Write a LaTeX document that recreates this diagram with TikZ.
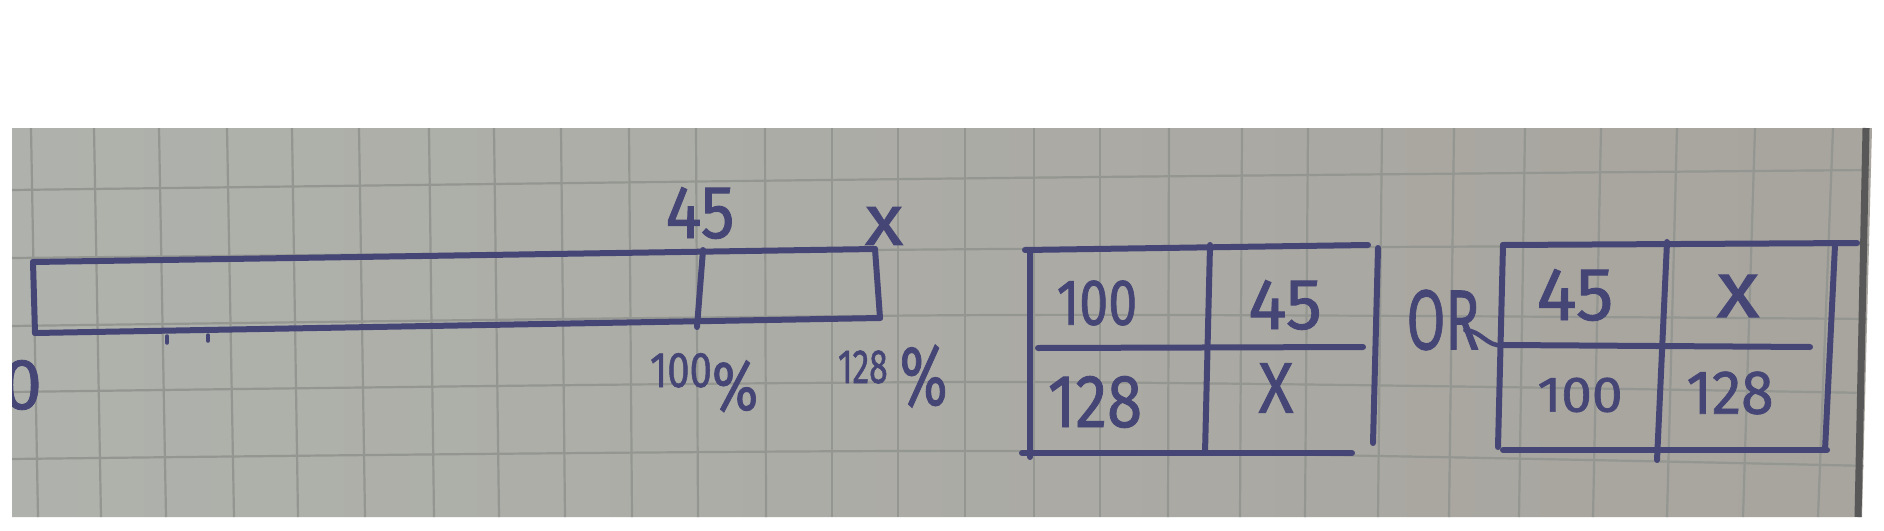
\documentclass[tikz,border=0pt]{standalone}
\usepackage{fontspec}
\setmainfont[FakeBold=1.2]{Fira Sans}
\usepackage{graphicx}
\definecolor{ink}{RGB}{70,70,118}
\definecolor{paperL}{RGB}{175,178,172}
\definecolor{paperM}{RGB}{176,176,170}
\definecolor{paperR}{RGB}{168,164,158}
\definecolor{gridc}{RGB}{148,150,145}
\definecolor{edgec}{RGB}{88,88,88}
\newcommand{\hw}[3]{\scalebox{#2}[1]{\fontsize{#1pt}{#1pt}\selectfont #3}}
\tikzset{
  inkline/.style={draw=ink, line width=6pt, line cap=round, line join=round},
  thinink/.style={draw=ink, line width=3.5pt, line cap=round},
  gridline/.style={draw=gridc, line width=2.2pt},
  hand/.style={text=ink, inner sep=0pt, outer sep=0pt}
}
\begin{document}
\begin{tikzpicture}[x=1pt,y=-1pt]
\useasboundingbox (0,0) rectangle (1884,530);
\fill[white] (0,0) rectangle (1884,530);
% paper
\shade[left color=paperL, middle color=paperM, right color=paperR]
  (12,128) -- (1872,128) -- (1862,517) -- (12,517) -- cycle;
\begin{scope}
\clip (12,128) -- (1872,128) -- (1862,517) -- (12,517) -- cycle;
% vertical grid lines
\foreach \gx/\gd in {31/7,94/7,159/7,227/7,292/6,359/6,429/5,494/5,561/4,629/3,696/2,765/1,832/0,898/0,965/0,1034/0,1100/0,1169/-1,1242/-2,1308/-3,1382/-4,1454/-5,1525/-6,1601/-8,1677/-10,1755/-12,1833/-15}
  \draw[gridline] (\gx,128) -- ({\gx+\gd},517);
% horizontal grid lines
\foreach \yl/\ym/\yr in {190/178/170,258/249/245,326/315/319,392/382/393,459/451/466}
  \draw[gridline] plot[smooth] coordinates {(12,\yl) (1000,\ym) (1870,\yr)};
% zero label (cut by paper edge)
\node[hand] (zero) at (22,385) {\hw{72}{1}{0}};
\end{scope}
% paper right edge
\draw[edgec, line width=7pt] (1866,128) -- (1858,517);

% ---------- bar ----------
\coordinate (bTL) at (33,262);
\coordinate (bBL) at (35,333);
\coordinate (bTR) at (875,249);
\coordinate (bBR) at (880,318);
\coordinate (dT) at (703,250);
\coordinate (dB) at (697,327);
\draw[inkline] (bTL) -- (bTR);
\draw[inkline] (bBL) -- (bBR);
\draw[inkline] (bTL) -- (bBL);
\draw[inkline] (dT) -- (dB);
\draw[inkline] (bTR) -- (bBR);
% small marks below bar
\coordinate (m1a) at (167,336); \coordinate (m1b) at (167,343);
\coordinate (m2a) at (208,335); \coordinate (m2b) at (208,341);
\draw[thinink] (m1a) -- (m1b);
\draw[thinink] (m2a) -- (m2b);

\node[hand] (b45) at (700,213) {\hw{75}{0.9}{45}};
\node[hand] (bx) at (884,226) {\hw{72}{1.1}{x}};
\node[hand, anchor=base west] (p100) at (650,387)
  {\hw{50}{0.8}{100}\raisebox{-23pt}{\hw{70}{0.8}{\%}}};
\node[hand, anchor=base west] (p128) at (838,383)
  {\hw{48}{0.7}{128}\hspace{12pt}\raisebox{-22pt}{\hw{85}{0.68}{\%}}};

% ---------- table 1 ----------
\coordinate (t1TL) at (1025,250); \coordinate (t1TR) at (1368,245);
\coordinate (t1LT) at (1030,250); \coordinate (t1LB) at (1030,457);
\coordinate (t1MT) at (1210,245); \coordinate (t1MB) at (1205,453);
\coordinate (t1HL) at (1038,348); \coordinate (t1HR) at (1363,347);
\coordinate (t1BL) at (1022,453); \coordinate (t1BR) at (1352,453);
\coordinate (sepT) at (1378,248); \coordinate (sepB) at (1373,443);
\draw[inkline] (t1TL) -- (t1TR);
\draw[inkline] (t1LT) -- (t1LB);
\draw[inkline] (t1MT) -- (t1MB);
\draw[inkline] (t1HL) -- (t1HR);
\draw[inkline] (t1BL) -- (t1BR);
\draw[inkline] (sepT) -- (sepB);
\node[hand] (t1a) at (1097,303) {\hw{65}{0.8}{100}};
\node[hand] (t1b) at (1285,305) {\hw{72}{1}{45}};
\node[hand] (t1c) at (1095,402) {\hw{75}{0.85}{128}};
\node[hand] (t1d) at (1276,388) {\hw{72}{0.9}{X}};

% ---------- OR ----------
\node[hand] (or) at (1443,320) {\hw{85}{0.66}{OR}};

% ---------- table 2 ----------
\coordinate (t2TL) at (1503,245); \coordinate (t2TR) at (1857,243);
\coordinate (t2LB) at (1498,447);
\coordinate (t2MT) at (1667,242); \coordinate (t2MB) at (1657,460);
\coordinate (t2RT) at (1835,245); \coordinate (t2RB) at (1825,450);
\coordinate (t2HL) at (1503,345); \coordinate (t2HR) at (1810,347);
\coordinate (t2BL) at (1503,450); \coordinate (t2BR) at (1827,450);
\draw[inkline] (t2TL) -- (t2TR);
\draw[inkline] (t2TL) -- (t2LB);
\draw[inkline] (t2MT) -- (t2MB);
\draw[inkline] (t2RT) -- (t2RB);
\draw[inkline] (t2HL) -- (t2HR);
\draw[inkline] (t2BL) -- (t2BR);
\draw[draw=ink, line width=4.5pt, line cap=round] ([shift={(-14,-20)}]or.south east) to[out=0,in=190] (t2HL);
\node[hand] (t2a) at (1575,295) {\hw{75}{1}{45}};
\node[hand] (t2b) at (1738,296) {\hw{80}{1.1}{x}};
\node[hand] (t2c) at (1580,395) {\hw{50}{1.1}{100}};
\node[hand] (t2d) at (1730,393) {\hw{62}{0.95}{128}};
\end{tikzpicture}
\end{document}
